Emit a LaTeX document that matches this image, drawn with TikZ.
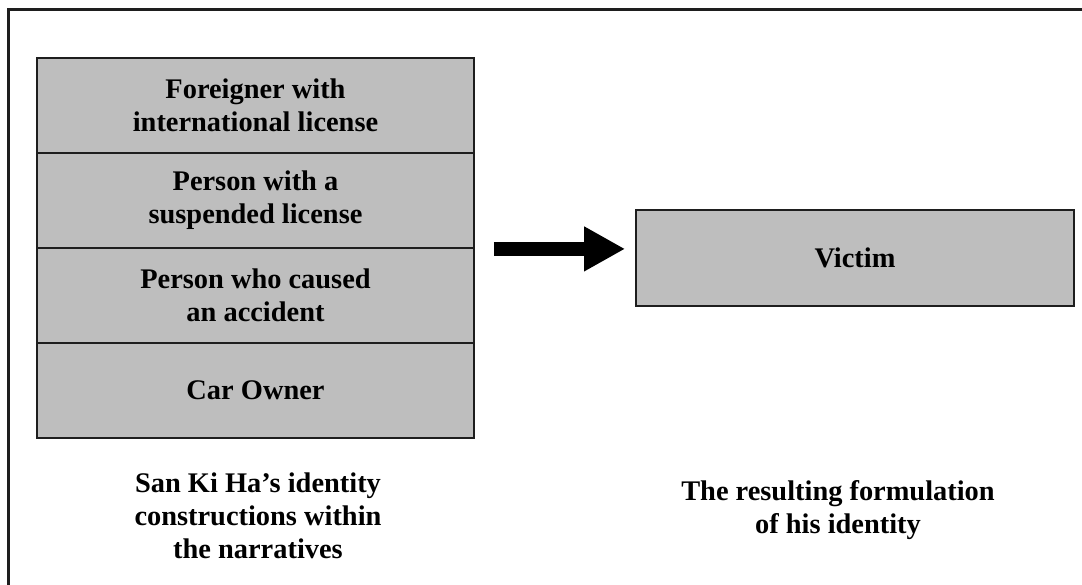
\documentclass[tikz,border=0pt]{standalone}
\usepackage{fontspec}
\setmainfont{Liberation Serif}
\usetikzlibrary{arrows.meta}
\definecolor{cellgray}{RGB}{190,190,190}
\definecolor{edgegray}{RGB}{30,30,30}
\tikzset{
  cell/.style={draw=edgegray, line width=1.8pt, fill=cellgray, minimum width=437pt,
    minimum height=95pt, inner sep=0pt, align=center, font=\labelfont},
  caption/.style={inner sep=0pt, align=center, font=\labelfont, anchor=base},
  bigarrow/.style={line width=14pt, -{Triangle[length=41pt,width=42pt]}}
}
\newcommand{\labelfont}{\bfseries\fontsize{28.4}{33}\selectfont}
\begin{document}
\begin{tikzpicture}[x=1pt, y=-1pt]
  \useasboundingbox (0,0) rectangle (1082,584);
  \clip (0,0) rectangle (1082,584);
  % outer frame (runs past the right and bottom edges)
  \draw[edgegray, line width=2.2pt] (8.5,9.5) rectangle (1120,620);

  % stack of identity constructions
  \node[cell] (r1) at (255.5,105.5) {Foreigner with\\international license};
  \node[cell] (r2) at (255.5,200.5) {Person with a\\suspended license};
  \node[cell] (r3) at (255.5,295.5) {Person who caused\\an accident};
  \node[cell] (r4) at (255.5,390.5) {Car Owner};

  % resulting identity
  \node[cell, minimum width=438pt, minimum height=96pt] (victim) at (855,258) {Victim};

  % transition arrow
  \draw[bigarrow, shorten <=19pt, shorten >=10pt] (r2.south east) -- (victim.west |- r2.south east);

  % captions (base anchor sits on the last line)
  \node[caption] (capL) at (258,558) {San Ki Ha’s identity\\constructions within\\the narratives};
  \node[caption] (capR) at (838,533) {The resulting formulation\\of his identity};
\end{tikzpicture}
\end{document}
